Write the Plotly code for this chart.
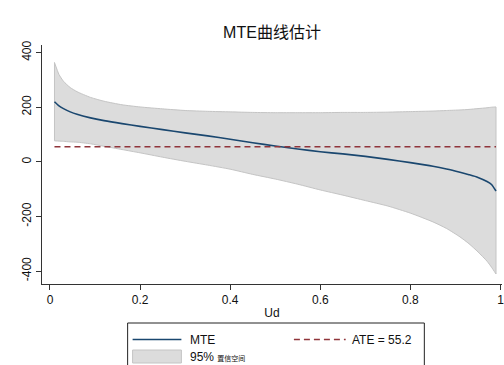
import plotly.graph_objects as go

# ---- data ----
ud = [0.01, 0.02, 0.03, 0.045, 0.06, 0.09, 0.12, 0.16, 0.2, 0.25, 0.3, 0.35, 0.4, 0.45,
      0.5, 0.55, 0.6, 0.65, 0.7, 0.75, 0.8, 0.85, 0.88, 0.91, 0.93, 0.95, 0.97, 0.98, 0.99]
mte = [220, 205, 195, 183, 174, 161, 151, 140, 130, 118, 106, 95, 83, 70,
       58, 47, 37, 29, 20, 9, -3, -16, -26, -38, -47, -57, -72, -83, -107]
ci_upper = [364, 320, 295, 272, 257, 236, 222, 209, 201, 194, 188, 185, 183, 181,
            180, 180, 180, 181, 181, 182, 184, 186, 188, 190, 192, 195, 198, 200, 201]
ci_lower = [77, 76, 75, 73, 72, 66, 57, 45, 33, 17, 2, -12, -27, -46,
            -63, -82, -103, -122, -142, -162, -188, -220, -244, -275, -300, -330, -364, -386, -411]
ate = 55.2
x_ticks = [0, 0.2, 0.4, 0.6, 0.8, 1]
x_tick_labels = ["0", "0.2", "0.4", "0.6", "0.8", "1"]
y_ticks = [-400, -200, 0, 200, 400]
y_tick_labels = ["-400", "-200", "0", "200", "400"]

W, H = 504, 365
ML, MR, MT, MB = 42, 0, 45, 81
FONT = "Liberation Sans, Arial, Noto Sans CJK SC, sans-serif"
NAVY = "#1a476f"
MAROON = "#90353b"
BAND = "#dcdcdc"
BAND_LINE = "#c4c4c4"

fig = go.Figure()

# CI band: lower edge, upper edge filled to lower, plus end edges
fig.add_trace(go.Scatter(
    x=ud, y=ci_lower, mode="lines",
    line=dict(color=BAND_LINE, width=1, shape="spline", smoothing=0.6),
    showlegend=False, hoverinfo="skip"))
fig.add_trace(go.Scatter(
    x=ud, y=ci_upper, mode="lines", fill="tonexty", fillcolor=BAND,
    line=dict(color=BAND_LINE, width=1, shape="spline", smoothing=0.6),
    showlegend=False, hoverinfo="skip"))
for i in (0, -1):
    fig.add_trace(go.Scatter(
        x=[ud[i], ud[i]], y=[ci_lower[i], ci_upper[i]], mode="lines",
        line=dict(color=BAND_LINE, width=1), showlegend=False, hoverinfo="skip"))

fig.add_trace(go.Scatter(
    x=ud, y=mte, mode="lines",
    line=dict(color=NAVY, width=1.6, shape="spline", smoothing=0.6),
    showlegend=False))

fig.add_trace(go.Scatter(
    x=[ud[0], ud[-1]], y=[ate, ate], mode="lines",
    line=dict(color=MAROON, width=1.6, dash="6px,4px"),
    showlegend=False))

pw = W - ML - MR
ph = H - MT - MB
def px(x):
    return (x - ML) / pw
def py(y):
    return (H - MB - y) / ph

shapes = []
annotations = []
# legend box
shapes.append(dict(type="rect", xref="paper", yref="paper",
                   x0=px(128), x1=px(426), y0=py(323), y1=py(372),
                   line=dict(color="#222", width=1), fillcolor="white", layer="above"))
shapes.append(dict(type="line", xref="paper", yref="paper",
                   x0=px(133), x1=px(182), y0=py(339.5), y1=py(339.5),
                   line=dict(color=NAVY, width=1.6)))
shapes.append(dict(type="line", xref="paper", yref="paper",
                   x0=px(295), x1=px(347), y0=py(339.5), y1=py(339.5),
                   line=dict(color=MAROON, width=1.6, dash="6px,4px")))
shapes.append(dict(type="rect", xref="paper", yref="paper",
                   x0=px(133), x1=px(182), y0=py(350), y1=py(363),
                   line=dict(color=BAND_LINE, width=1), fillcolor=BAND))
annotations.append(dict(xref="paper", yref="paper", x=px(189), y=py(339.5),
                        xanchor="left", yanchor="middle", showarrow=False,
                        text="MTE", font=dict(size=12, color="#111", family=FONT)))
annotations.append(dict(xref="paper", yref="paper", x=px(351), y=py(339.5),
                        xanchor="left", yanchor="middle", showarrow=False,
                        text="ATE = 55.2", font=dict(size=12, color="#111", family=FONT)))
annotations.append(dict(xref="paper", yref="paper", x=px(189), y=py(357),
                        xanchor="left", yanchor="middle", showarrow=False,
                        text="95% <span style='font-size:7px'>置信空间</span>",
                        font=dict(size=12, color="#111", family=FONT)))

fig.update_layout(
    width=W, height=H,
    margin=dict(l=ML, r=MR, t=MT, b=MB),
    paper_bgcolor="white", plot_bgcolor="white",
    font=dict(family=FONT, size=12, color="#111"),
    title=dict(text="MTE曲线估计", x=0.5, xref="paper", xanchor="center",
               y=1 - 32 / H, yref="container", yanchor="middle",
               font=dict(size=16, color="#111", family=FONT)),
    shapes=shapes, annotations=annotations,
    showlegend=False,
)
fig.update_xaxes(range=[-0.0177, 1.0033], tickvals=x_ticks, ticktext=x_tick_labels,
                 showgrid=False, zeroline=False, showline=True, linecolor="#333", linewidth=1,
                 ticks="outside", ticklen=5, tickcolor="#333", ticklabeloverflow="allow",
                 tickfont=dict(size=12, family=FONT, color="#111"),
                 title=dict(text="Ud", standoff=2, font=dict(size=12, family=FONT, color="#111")))
fig.update_yaxes(range=[-447.6, 428], tickvals=y_ticks, ticktext=y_tick_labels,
                 showgrid=False, zeroline=False, showline=True, linecolor="#333", linewidth=1,
                 ticks="outside", ticklen=5, tickcolor="#333", tickangle=-90,
                 tickfont=dict(size=12, family=FONT, color="#111"))

fig.write_html("out.html")
